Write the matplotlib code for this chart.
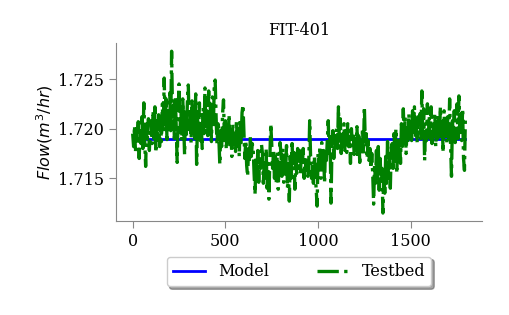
import matplotlib
matplotlib.use('Agg')
import matplotlib.pyplot as plt
import numpy as np

# sensor FIT-401, one value read every 5 samples
step = 5
model_value = 1.7190
testbed = [
    1.7195, 1.7182, 1.7203, 1.7176, 1.7200, 1.7188, 1.7207, 1.7170, 1.7198, 1.7185,
    1.7212, 1.7180, 1.7226, 1.7186, 1.7162, 1.7205, 1.7190, 1.7210, 1.7178, 1.7201,
    1.7208, 1.7185, 1.7218, 1.7190, 1.7222, 1.7176, 1.7205, 1.7193, 1.7214, 1.7182,
    1.7210, 1.7187, 1.7225, 1.7195, 1.7251, 1.7203, 1.7230, 1.7189, 1.7218, 1.7196,
    1.7236, 1.7198, 1.7278, 1.7212, 1.7224, 1.7190, 1.7232, 1.7201, 1.7166, 1.7215,
    1.7245, 1.7196, 1.7222, 1.7188, 1.7230, 1.7205, 1.7174, 1.7219, 1.7193, 1.7226,
    1.7244, 1.7199, 1.7220, 1.7186, 1.7228, 1.7194, 1.7215, 1.7190, 1.7235, 1.7164,
    1.7212, 1.7191, 1.7226, 1.7188, 1.7203, 1.7180, 1.7221, 1.7195, 1.7241, 1.7199,
    1.7218, 1.7193, 1.7238, 1.7196, 1.7225, 1.7187, 1.7232, 1.7200, 1.7242, 1.7249,
    1.7212, 1.7184, 1.7205, 1.7190, 1.7164, 1.7198, 1.7182, 1.7215, 1.7229, 1.7188,
    1.7208, 1.7179, 1.7200, 1.7185, 1.7214, 1.7181, 1.7197, 1.7172, 1.7205, 1.7186,
    1.7195, 1.7177, 1.7208, 1.7183, 1.7200, 1.7172, 1.7210, 1.7186, 1.7216, 1.7224,
    1.7198, 1.7170, 1.7188, 1.7163, 1.7152, 1.7180, 1.7166, 1.7192, 1.7172, 1.7185,
    1.7180, 1.7155, 1.7134, 1.7170, 1.7150, 1.7178, 1.7146, 1.7172, 1.7160, 1.7184,
    1.7175, 1.7145, 1.7168, 1.7152, 1.7180, 1.7140, 1.7165, 1.7129, 1.7170, 1.7205,
    1.7185, 1.7160, 1.7178, 1.7150, 1.7172, 1.7145, 1.7176, 1.7139, 1.7168, 1.7186,
    1.7175, 1.7152, 1.7180, 1.7146, 1.7170, 1.7158, 1.7183, 1.7140, 1.7160, 1.7127,
    1.7172, 1.7150, 1.7185, 1.7158, 1.7176, 1.7139, 1.7168, 1.7155, 1.7180, 1.7160,
    1.7178, 1.7155, 1.7175, 1.7162, 1.7180, 1.7150, 1.7172, 1.7158, 1.7168, 1.7152,
    1.7166, 1.7208, 1.7170, 1.7150, 1.7165, 1.7145, 1.7172, 1.7155, 1.7140, 1.7122,
    1.7175, 1.7160, 1.7182, 1.7150, 1.7186, 1.7165, 1.7178, 1.7145, 1.7180, 1.7168,
    1.7188, 1.7208, 1.7175, 1.7192, 1.7125, 1.7180, 1.7198, 1.7170, 1.7195, 1.7182,
    1.7200, 1.7180, 1.7222, 1.7186, 1.7210, 1.7175, 1.7196, 1.7183, 1.7205, 1.7178,
    1.7198, 1.7176, 1.7205, 1.7182, 1.7192, 1.7165, 1.7200, 1.7185, 1.7195, 1.7174,
    1.7190, 1.7178, 1.7202, 1.7170, 1.7196, 1.7166, 1.7188, 1.7180, 1.7200, 1.7175,
    1.7222, 1.7185, 1.7195, 1.7170, 1.7188, 1.7168, 1.7180, 1.7160, 1.7175, 1.7155,
    1.7124, 1.7165, 1.7145, 1.7178, 1.7150, 1.7182, 1.7138, 1.7170, 1.7148, 1.7160,
    1.7115, 1.7160, 1.7135, 1.7172, 1.7145, 1.7187, 1.7150, 1.7175, 1.7140, 1.7180,
    1.7185, 1.7160, 1.7195, 1.7170, 1.7200, 1.7155, 1.7188, 1.7175, 1.7192, 1.7165,
    1.7205, 1.7182, 1.7220, 1.7190, 1.7212, 1.7175, 1.7200, 1.7185, 1.7215, 1.7192,
    1.7210, 1.7188, 1.7218, 1.7195, 1.7222, 1.7190, 1.7205, 1.7186, 1.7212, 1.7196,
    1.7215, 1.7190, 1.7238, 1.7195, 1.7220, 1.7168, 1.7205, 1.7188, 1.7225, 1.7193,
    1.7212, 1.7190, 1.7222, 1.7185, 1.7208, 1.7195, 1.7216, 1.7182, 1.7210, 1.7190,
    1.7215, 1.7188, 1.7222, 1.7192, 1.7205, 1.7176, 1.7218, 1.7190, 1.7210, 1.7186,
    1.7212, 1.7190, 1.7230, 1.7185, 1.7152, 1.7208, 1.7192, 1.7218, 1.7186, 1.7214,
    1.7225, 1.7190, 1.7233, 1.7196, 1.7215, 1.7188, 1.7220, 1.7170, 1.7158, 1.7212,
]

t = np.arange(len(testbed)) * step
model = np.full(len(testbed), model_value)

plt.rcParams['font.family'] = 'DejaVu Serif'
plt.rcParams['font.size'] = 11.5

fig = plt.figure(figsize=(5.09, 3.15), dpi=100)
ax = fig.add_axes([0.228, 0.298, 0.719, 0.565])

ax.plot(t, model, color='blue', lw=2, label='Model')
ax.plot(t, testbed, color='green', lw=2.4, ls='-.', label='Testbed')

ax.set_title('FIT-401', fontsize=11.5)
ax.set_ylabel('$Flow(m^3/hr)$', labelpad=2)
ax.set_yticks([1.715, 1.720, 1.725])
ax.set_xticks([0, 500, 1000, 1500])

for s in ['top', 'right']:
    ax.spines[s].set_visible(False)
for s in ['left', 'bottom']:
    ax.spines[s].set_color('#888888')
ax.tick_params(colors='#888888', labelcolor='black', length=5)

ax.legend(loc='upper center', bbox_to_anchor=(0.5, -0.155), ncol=2,
          shadow=True, fancybox=True, fontsize=11.5, columnspacing=3)

fig.savefig('out.png', dpi=100)
